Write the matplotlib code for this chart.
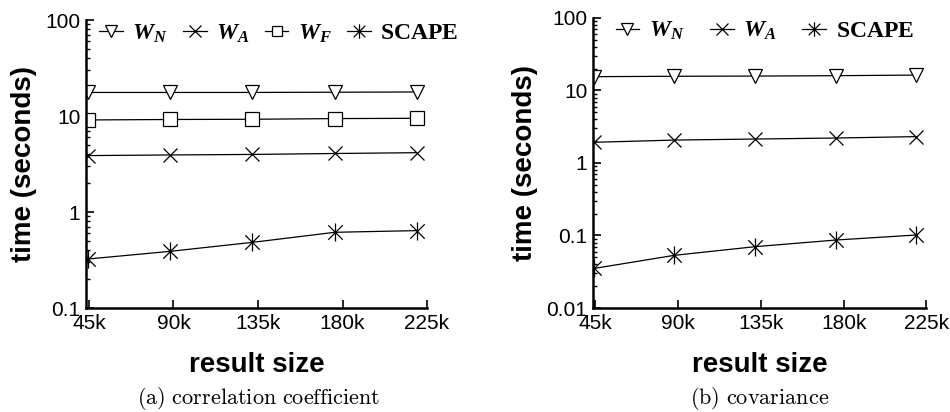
import matplotlib
matplotlib.use('Agg')
import matplotlib.pyplot as plt
from matplotlib.path import Path

plt.rcParams['font.family'] = ['Liberation Sans', 'DejaVu Sans']
plt.rcParams['mathtext.fontset'] = 'custom'
plt.rcParams['mathtext.it'] = 'Liberation Serif:italic:bold'
plt.rcParams['mathtext.rm'] = 'Liberation Serif:bold'
plt.rcParams['mathtext.bf'] = 'Liberation Serif:bold'

# result sizes
sizes = [44500, 88000, 132000, 176000, 219500]
tick_pos = [45000, 90000, 135000, 180000, 225000]
tick_lbl = ['45k', '90k', '135k', '180k', '225k']

# (a) correlation coefficient
corr_wn = [17.6, 17.6, 17.6, 17.7, 17.8]
corr_wa = [3.87, 3.93, 3.98, 4.07, 4.15]
corr_wf = [9.1, 9.2, 9.25, 9.4, 9.47]
corr_scape = [0.324, 0.389, 0.483, 0.615, 0.64]

# (b) covariance
cov_wn = [15.5, 15.7, 15.8, 16.0, 16.3]
cov_wa = [1.93, 2.07, 2.14, 2.21, 2.31]
cov_scape = [0.0352, 0.0533, 0.0702, 0.0867, 0.1016]

# asterisk = x plus a vertical bar
star = Path([(-1, -1), (1, 1), (-1, 1), (1, -1), (0, -1.25), (0, 1.25)],
            [Path.MOVETO, Path.LINETO, Path.MOVETO, Path.LINETO, Path.MOVETO, Path.LINETO])

style = dict(color='black', lw=0.9, mec='black', mfc='white', mew=0.9)

fig = plt.figure(figsize=(9.5, 4.12), dpi=100)
ax1 = fig.add_axes([0.0905, 0.2524, 0.359, 0.699])
ax2 = fig.add_axes([0.6242, 0.2524, 0.351, 0.704])

ax1.plot(sizes, corr_wn, marker='v', ms=10, label='$W_N$', **style)
ax1.plot(sizes, corr_wa, marker='x', ms=10, label='$W_A$', **style)
ax1.plot(sizes, corr_wf, marker='s', ms=9.5, label='$W_F$', **style)
ax1.plot(sizes, corr_scape, marker=star, ms=13, label=r'$\mathrm{SCAPE}$', **style)

ax2.plot(sizes, cov_wn, marker='v', ms=10, label='$W_N$', **style)
ax2.plot(sizes, cov_wa, marker='x', ms=10, label='$W_A$', **style)
ax2.plot(sizes, cov_scape, marker=star, ms=13, label=r'$\mathrm{SCAPE}$', **style)

ax1.set_ylim(0.1, 100)
ax2.set_ylim(0.01, 100)
ax1.set_xlim(43400, 225000)
ax2.set_xlim(43700, 225000)

for ax in (ax1, ax2):
    ax.set_yscale('log')
    ax.set_yticks([t for t in [0.01, 0.1, 1, 10, 100] if t >= ax.get_ylim()[0]])
    ax.set_yticklabels([f'{t:g}' for t in ax.get_yticks()])
    ax.set_xticks(tick_pos)
    ax.set_xticklabels(tick_lbl)
    ax.spines['top'].set_visible(False)
    ax.spines['right'].set_visible(False)
    ax.spines['left'].set_linewidth(1.8)
    ax.spines['bottom'].set_linewidth(1.8)
    ax.tick_params(direction='in', which='major', length=6, width=1.2, labelsize=15, pad=4)
    ax.tick_params(direction='in', which='minor', length=3, width=1)
    ax.tick_params(axis='x', pad=4)
    ax.set_ylabel('time (seconds)', fontsize=20, fontweight='bold', labelpad=6)
    ax.set_xlabel('result size', fontsize=20, fontweight='bold', labelpad=14)

leg = dict(frameon=False, fontsize=17, handlelength=1.0, handletextpad=0.4,
           markerscale=0.8, borderaxespad=0)
ax1.legend(loc='upper center', bbox_to_anchor=(0.565, 1.025), ncol=4, columnspacing=0.65, **leg)
ax2.legend(loc='upper right', bbox_to_anchor=(0.99, 1.025), ncol=3, columnspacing=1.1, **leg)

fig.text(0.272, 0.02, r'$\mathrm{(a)\ correlation\ coefficient}$', math_fontfamily='cm',
         fontsize=16, ha='center')
fig.text(0.80, 0.02, r'$\mathrm{(b)\ covariance}$', math_fontfamily='cm',
         fontsize=16, ha='center')

fig.savefig('out.png', dpi=100)
